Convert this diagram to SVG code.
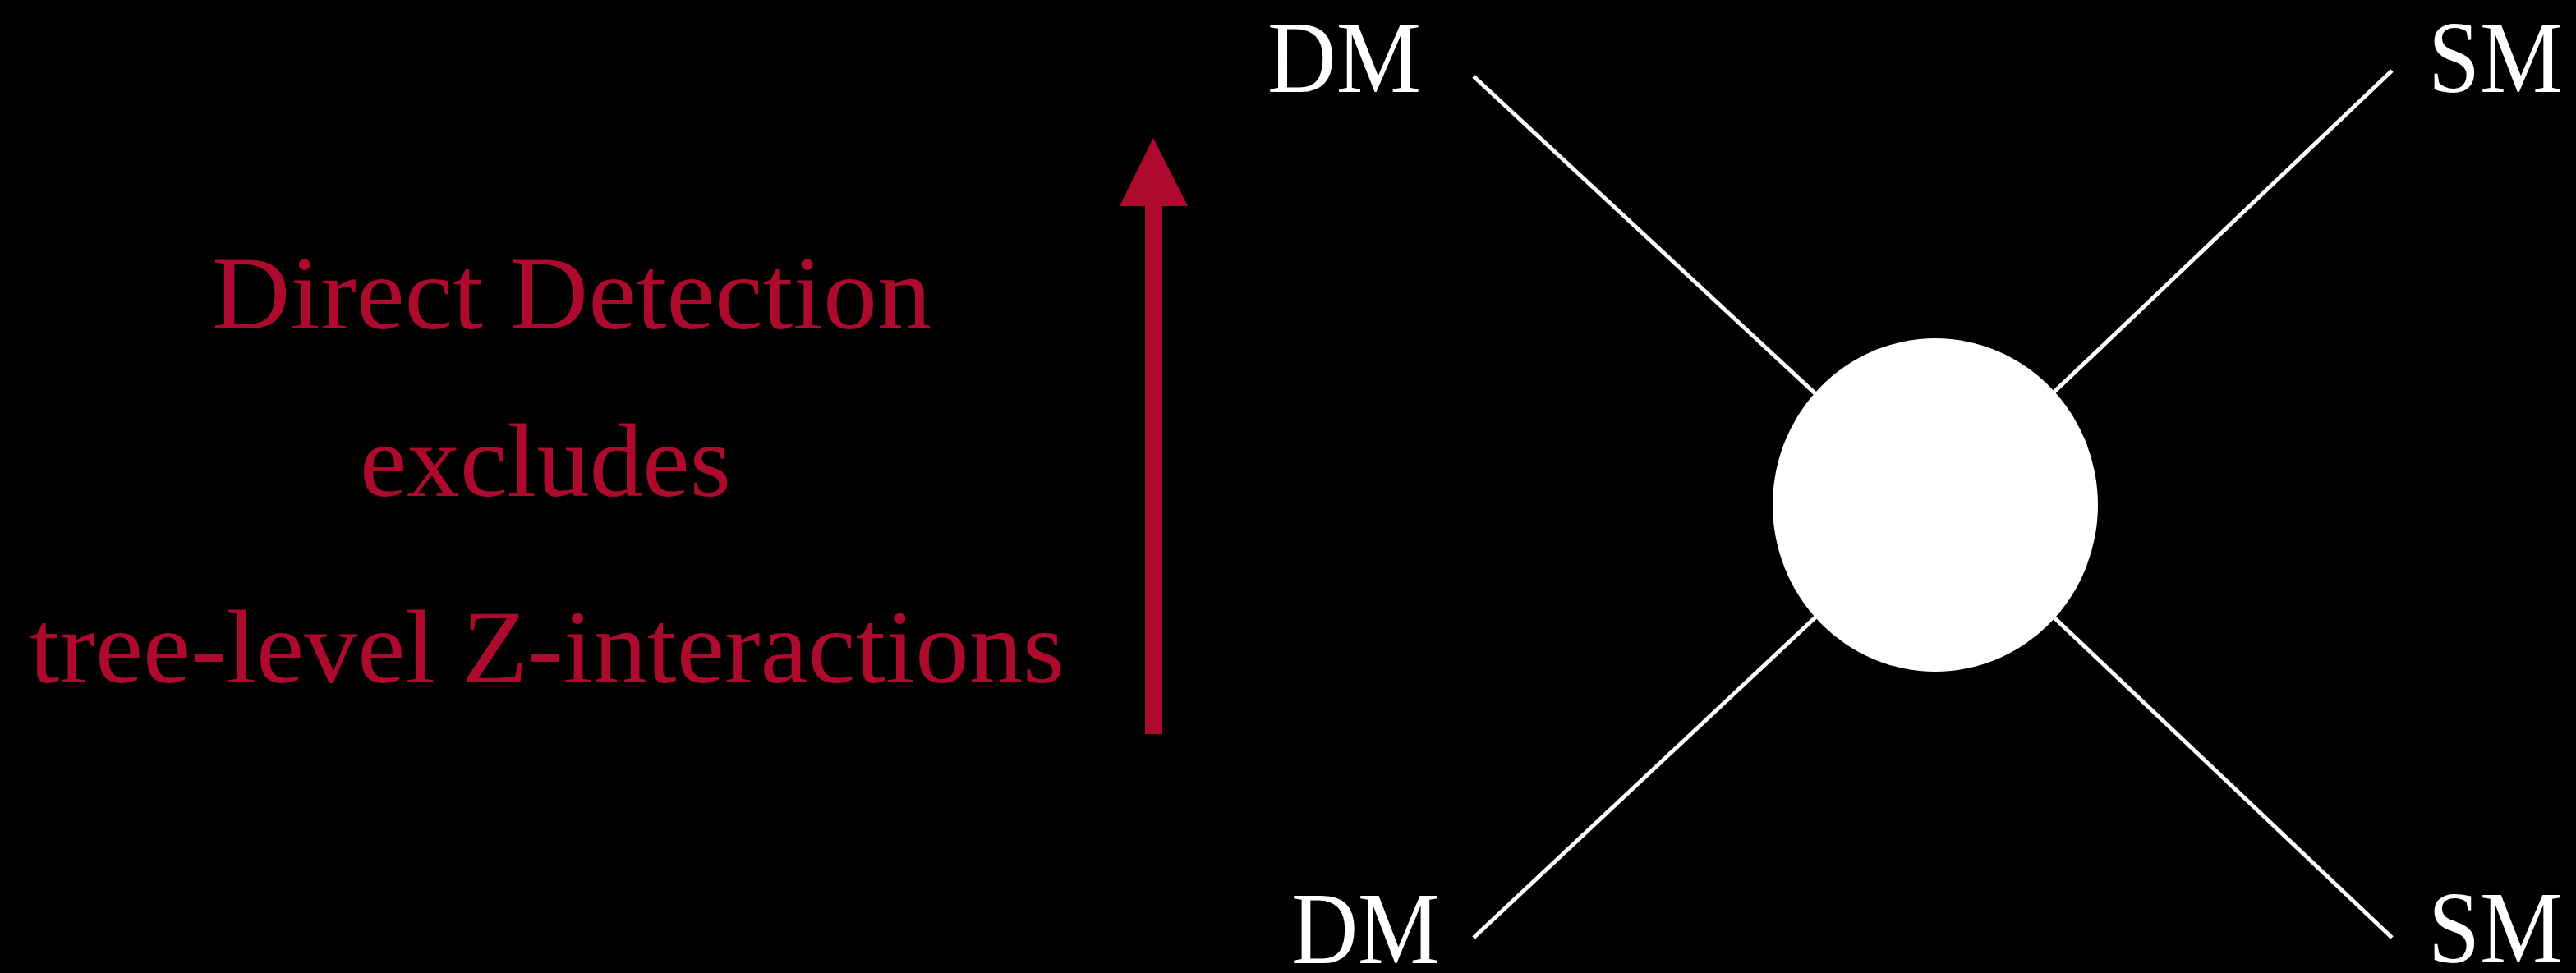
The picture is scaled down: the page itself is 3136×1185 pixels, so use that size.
<svg xmlns="http://www.w3.org/2000/svg" width="3136" height="1185" viewBox="0 0 3136 1185">
<style>
.lbl{font-family:"Liberation Serif",serif;font-size:124px;fill:#ffffff}
.red{font-family:"Liberation Serif",serif;font-size:126px;fill:#ad0a2d}
.leg{stroke:#ffffff;stroke-width:5;fill:none}
</style>
<rect width="3136" height="1185" fill="#000000"/>
<g id="connectors">
<line class="leg" x1="1794" y1="93" x2="2356" y2="615"/>
<line class="leg" x1="2912" y1="86" x2="2356" y2="615"/>
<line class="leg" x1="1794" y1="1142" x2="2356" y2="615"/>
<line class="leg" x1="2912" y1="1142" x2="2356" y2="615"/>
</g>
<g id="vertex">
<ellipse cx="2356" cy="615" rx="198" ry="203" fill="#ffffff"/>
</g>
<g id="dm-top"><text class="lbl" x="1543" y="112" textLength="187" lengthAdjust="spacingAndGlyphs">DM</text></g>
<g id="sm-top"><text class="lbl" x="2956" y="112" textLength="164" lengthAdjust="spacingAndGlyphs">SM</text></g>
<g id="dm-bottom"><text class="lbl" x="1572" y="1173" textLength="181" lengthAdjust="spacingAndGlyphs">DM</text></g>
<g id="sm-bottom"><text class="lbl" x="2956" y="1172" textLength="164" lengthAdjust="spacingAndGlyphs">SM</text></g>
<g id="arrow">
<rect x="1394" y="245" width="21" height="649" fill="#ad0a2d"/>
<polygon points="1404,168 1446,251 1363,251" fill="#ad0a2d"/>
</g>
<g id="caption">
<text class="red" x="258" y="400" textLength="876" lengthAdjust="spacingAndGlyphs">Direct Detection</text>
<text class="red" x="438" y="604" textLength="452" lengthAdjust="spacingAndGlyphs">excludes</text>
<text class="red" x="36" y="831" textLength="1260" lengthAdjust="spacingAndGlyphs">tree-level Z-interactions</text>
</g>
</svg>
